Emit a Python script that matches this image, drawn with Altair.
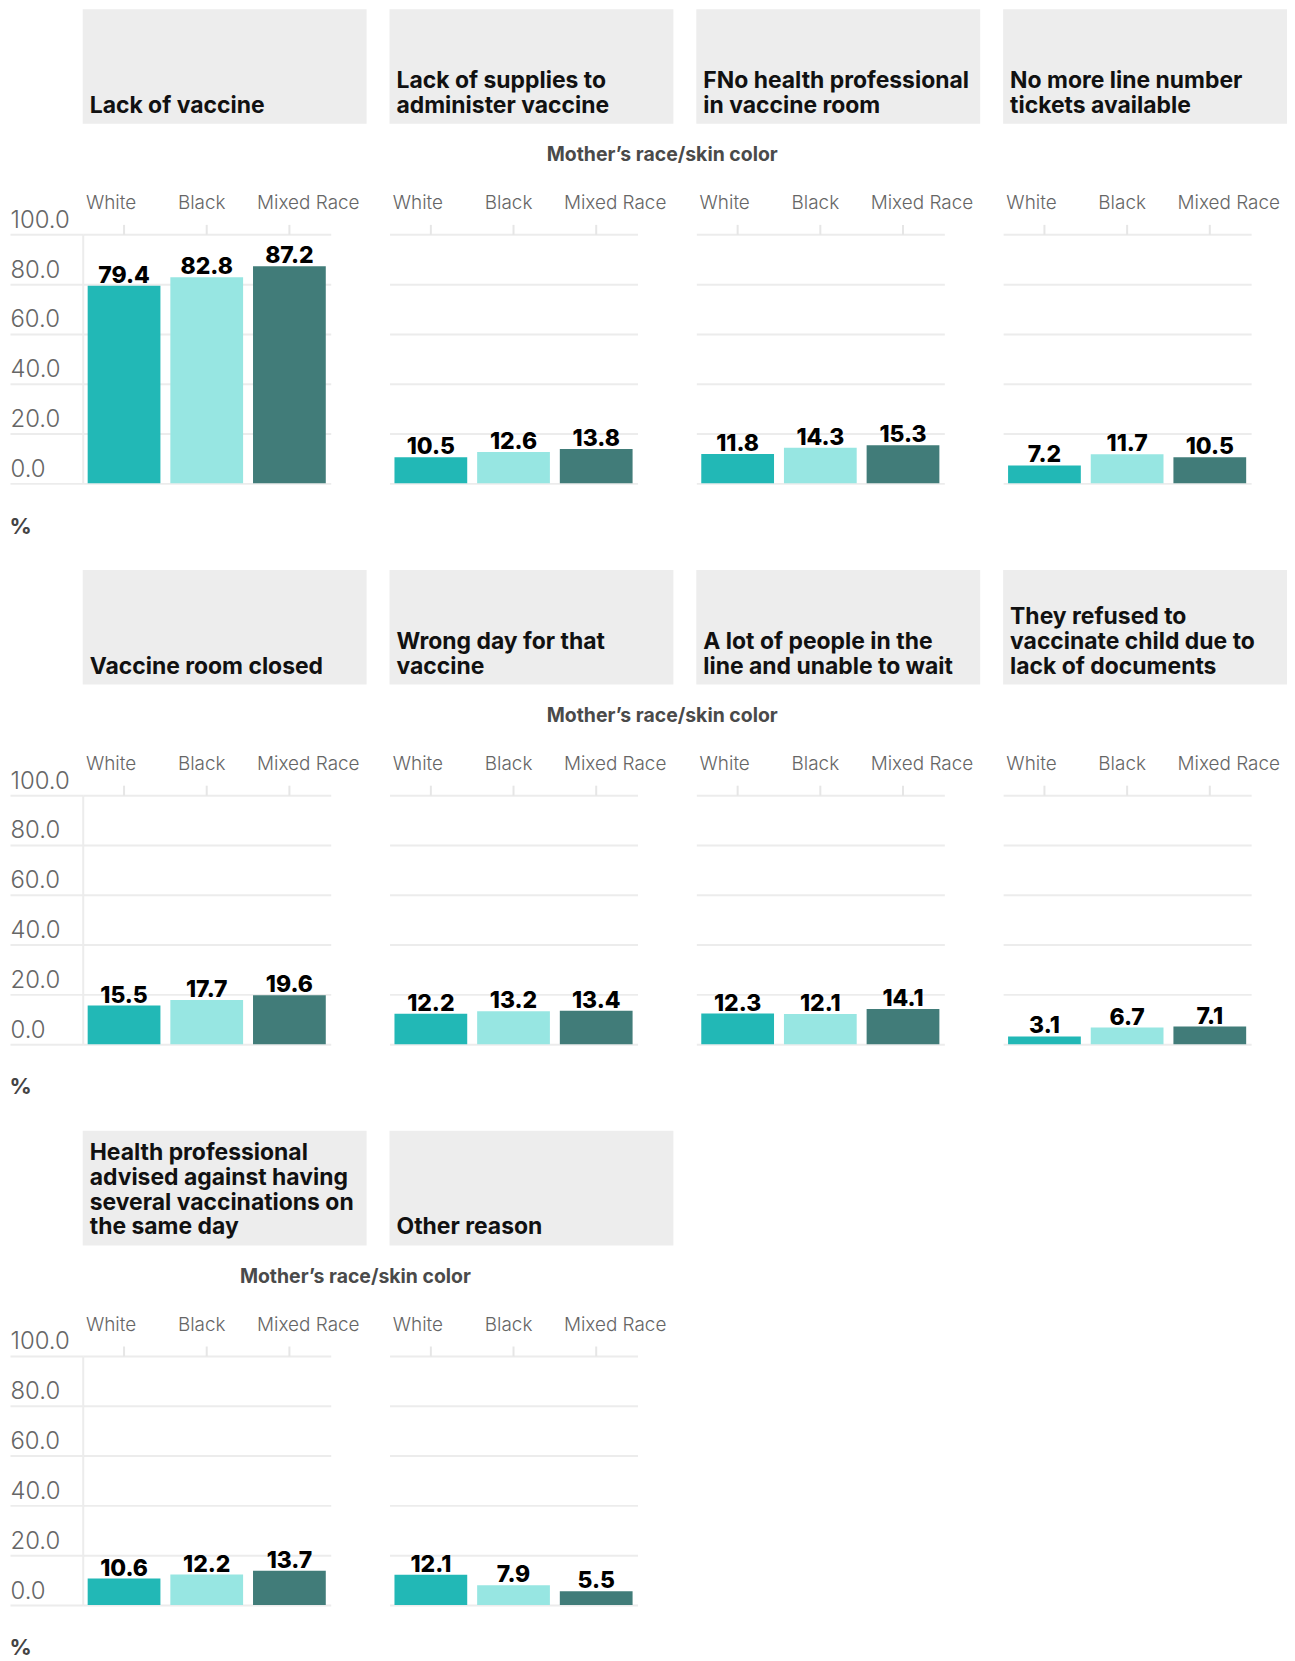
import altair as alt
import pandas as pd

# ---- data ----
reasons = [
    "Lack of vaccine",
    "Lack of supplies to administer vaccine",
    "FNo health professional in vaccine room",
    "No more line number tickets available",
    "Vaccine room closed",
    "Wrong day for that vaccine",
    "A lot of people in the line and unable to wait",
    "They refused to vaccinate child due to lack of documents",
    "Health professional advised against having several vaccinations on the same day",
    "Other reason",
]
header_lines = [
    ["Lack of vaccine"],
    ["Lack of supplies to", "administer vaccine"],
    ["FNo health professional", "in vaccine room"],
    ["No more line number", "tickets available"],
    ["Vaccine room closed"],
    ["Wrong day for that", "vaccine"],
    ["A lot of people in the", "line and unable to wait"],
    ["They refused to", "vaccinate child due to", "lack of documents"],
    ["Health professional", "advised against having", "several vaccinations on", "the same day"],
    ["Other reason"],
]
groups = ["White", "Black", "Mixed Race"]
white = [79.4, 10.5, 11.8, 7.2, 15.5, 12.2, 12.3, 3.1, 10.6, 12.1]
black = [82.8, 12.6, 14.3, 11.7, 17.7, 13.2, 12.1, 6.7, 12.2, 7.9]
mixed = [87.2, 13.8, 15.3, 10.5, 19.6, 13.4, 14.1, 7.1, 13.7, 5.5]
colors = ["#22b8b6", "#97e6e2", "#417c79"]
y_ticks = [0, 20, 40, 60, 80, 100]
axis_title = "Mother’s race/skin color"
layout_rows = [[0, 1, 2, 3], [4, 5, 6, 7], [8, 9]]

records = []
for i, r in enumerate(reasons):
    for g, vals in zip(groups, [white, black, mixed]):
        records.append({"reason": r, "group": g, "value": vals[i]})
df = pd.DataFrame(records)
hdr_values = [{"reason": r, "label": l, "nlines": len(l)} for r, l in zip(reasons, header_lines)]

FONT = "Inter"
PW, PH = 249, 250
HW, HH = 285, 115
GRID = "#ececec"
YEXT = 73
LH = 25          # header line height (px)
HBASE = 11       # last baseline distance from box bottom (px)
# header y scale: one unit = one text line; a header with n lines has its first
# baseline n-1 lines above the bottom baseline
hdr_domain = [1 - HBASE / LH, 1 - HBASE / LH + HH / LH]


def header(r, first):
    if first:
        yax = alt.Axis(values=[1], ticks=True, tickSize=YEXT, tickWidth=2, tickOpacity=0,
                       labels=False, domain=False, grid=False, title=None)
    else:
        yax = None
    return (
        alt.Chart(alt.Data(values=hdr_values))
        .transform_filter(alt.datum.reason == r)
        .mark_text(align="left", baseline="alphabetic", font=FONT,
                   fontSize=23, fontWeight="bold", color="#111", lineHeight=LH, dx=7)
        .encode(
            x=alt.X(datum=0, scale=alt.Scale(domain=[0, 1]), axis=None),
            y=alt.Y("nlines:Q", scale=alt.Scale(domain=hdr_domain, nice=False, zero=False),
                    axis=yax),
            text="label:N",
        )
        .properties(width=HW, height=HH, view=alt.ViewBackground(fill="#ededed", strokeWidth=0))
    )


label_shift = {
    "condition": [
        {"test": "datum.value === 'White'", "value": -13},
        {"test": "datum.value === 'Black'", "value": -5},
    ],
    "value": 19,
}


def panel(r, first):
    base = alt.Chart(df).transform_filter(alt.datum.reason == r)
    xaxis = alt.Axis(orient="top", title=None, labelAngle=0, labelFont=FONT,
                     labelFontSize=19, labelFontWeight=300, labelColor="#666",
                     labelPadding=12, labelOffset=label_shift,
                     ticks=True, tickSize=10, tickColor="#e6e6e6",
                     tickWidth=2, domain=False, grid=False)
    x = alt.X("group:N", sort=groups,
              scale=alt.Scale(paddingInner=0.12, paddingOuter=0.06), axis=xaxis)
    if first:
        yaxis = alt.Axis(values=y_ticks, format=".1f", grid=True, gridColor=GRID, gridWidth=2,
                         domain=True, domainColor=GRID, domainWidth=2,
                         ticks=True, tickSize=YEXT, tickColor=GRID, tickWidth=2,
                         labelAlign="left", labelBaseline="alphabetic", labelPadding=0,
                         labelOffset=-7, labelFont=FONT, labelFontSize=24,
                         labelFontWeight=300, labelColor="#666",
                         title="%", titleAngle=0, titleX=-74, titleY=PH + 43,
                         titleAlign="left", titleBaseline="middle", titleFont=FONT,
                         titleFontSize=22, titleFontWeight="bold", titleColor="#444")
    else:
        yaxis = alt.Axis(values=y_ticks, grid=True, gridColor=GRID, gridWidth=2,
                         labels=False, ticks=False, domain=False, title=None)
    y = alt.Y("value:Q", scale=alt.Scale(domain=[0, 100]), axis=yaxis)
    bars = base.mark_bar().encode(
        x=x, y=y,
        color=alt.Color("group:N", scale=alt.Scale(domain=groups, range=colors), legend=None),
    )
    labels = base.mark_text(baseline="alphabetic", dy=-3, font=FONT, fontSize=23,
                            fontWeight=800, color="#000").encode(
        x=alt.X("group:N", sort=groups),
        y="value:Q",
        text=alt.Text("value:Q", format=".1f"),
    )
    return alt.layer(bars, labels).properties(width=PW, height=PH)


row_charts = []
for idx in layout_rows:
    hdrs = alt.hconcat(*[header(reasons[i], k == 0) for k, i in enumerate(idx)],
                       spacing=23, bounds="flush")
    pans = alt.hconcat(*[panel(reasons[i], k == 0) for k, i in enumerate(idx)],
                       spacing=59, bounds="flush").properties(
        title=alt.TitleParams(axis_title, anchor="middle", frame="bounds", dx=18, font=FONT,
                              fontSize=19.5, fontWeight="bold", color="#4a4a4a", offset=28)
    )
    row_charts.append(alt.vconcat(hdrs, pans, spacing=21))

chart = alt.vconcat(*row_charts, spacing=33).properties(
    padding={"left": 1, "top": -2, "right": 0, "bottom": 0}
).configure_view(strokeWidth=0)

chart.save("out.html", embed_options={"renderer": "svg", "actions": False})
